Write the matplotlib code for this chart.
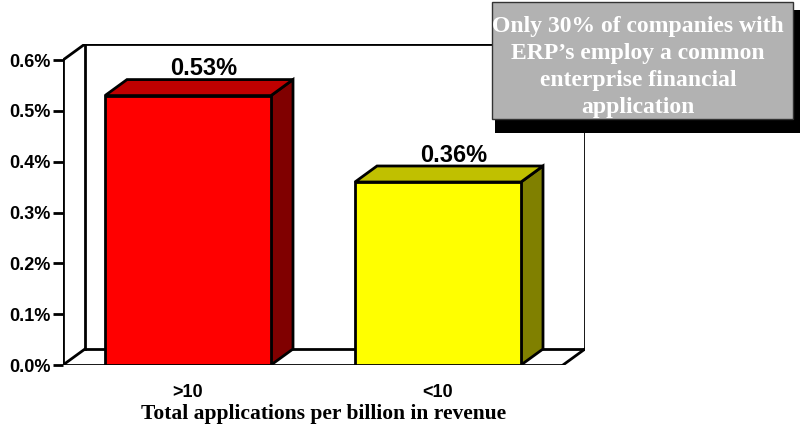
import matplotlib
matplotlib.use('Agg')
import matplotlib.pyplot as plt
from matplotlib.patches import Polygon, Rectangle

# chart data
categories = ['>10', '<10']
values = [0.53, 0.36]
value_labels = ['0.53%', '0.36%']
y_ticks = [0.0, 0.1, 0.2, 0.3, 0.4, 0.5, 0.6]
y_tick_labels = ['0.0%', '0.1%', '0.2%', '0.3%', '0.4%', '0.5%', '0.6%']
x_title = 'Total applications per billion in revenue'
note_text = 'Only 30% of companies with\nERP\u2019s employ a common\nenterprise financial\napplication'

front_colors = ['#ff0000', '#ffff00']
top_colors = ['#c00000', '#c0c000']
side_colors = ['#800000', '#808000']

W, H = 800, 424
YMAX = 0.6
DX = 0.088      # depth offset in x data units
DY = 0.0315     # depth offset in y data units
BAR_W = 0.664
LW = 2.0

fig = plt.figure(figsize=(W / 100, H / 100), dpi=100)
ax = fig.add_axes([63 / W, (H - 365) / H, (585 - 63) / W, (365 - 44) / H])
ax.set_facecolor('none')
ax.set_xlim(-0.5, 1.5 + DX)
ax.set_ylim(0, YMAX + DY)
for s in ax.spines.values():
    s.set_visible(False)

x0, x1 = -0.5, 1.5


def line(xs, ys):
    ax.plot(xs, ys, color='black', lw=LW, solid_capstyle='projecting', zorder=2)


# walls and floor
ax.add_patch(Polygon([(x0, 0), (x0 + DX, DY), (x0 + DX, YMAX + DY), (x0, YMAX)],
                     closed=True, facecolor='white', edgecolor='none', zorder=1))
line([x0, x0], [0, YMAX])
line([x0, x0 + DX], [YMAX, YMAX + DY])
line([x0, x0 + DX], [0, DY])
line([x0 + DX, x0 + DX], [DY, YMAX + DY])
line([x0 + DX, x1 + DX], [YMAX + DY, YMAX + DY])
line([x1 + DX, x1 + DX], [DY, YMAX + DY])
line([x0 + DX, x1 + DX], [DY, DY])
line([x0, x1], [0, 0])
line([x1, x1 + DX], [0, DY])

# 3d bars
for i, v in enumerate(values):
    l = i - BAR_W / 2
    r = i + BAR_W / 2
    front = [(l, 0), (r, 0), (r, v), (l, v)]
    top = [(l, v), (r, v), (r + DX, v + DY), (l + DX, v + DY)]
    side = [(r, 0), (r + DX, DY), (r + DX, v + DY), (r, v)]
    for pts, c in [(side, side_colors[i]), (top, top_colors[i]), (front, front_colors[i])]:
        ax.add_patch(Polygon(pts, closed=True, facecolor=c, edgecolor='black',
                             lw=LW, joinstyle='miter', zorder=3))
    ax.text(i + DX / 2 + 0.02, v + DY - 0.001, value_labels[i], ha='center', va='bottom',
            fontsize=17, fontweight='bold', family='Liberation Sans', zorder=4)

ax.set_yticks(y_ticks)
ax.set_yticklabels(y_tick_labels, fontsize=13, fontweight='bold', family='Liberation Sans')
ax.tick_params(axis='y', length=7, width=LW, pad=2)
ax.set_xticks(range(len(categories)))
ax.set_xticklabels(categories, fontsize=13, fontweight='bold', family='Liberation Sans')
ax.tick_params(axis='x', length=0, pad=14)
ax.set_xlabel(x_title, fontsize=15.5, fontweight='bold', family='Liberation Serif', labelpad=2)

# callout box with shadow
fig.patches.append(Rectangle((495 / W, 1 - 133 / H), (805 - 495) / W, (133 - 10) / H,
                             transform=fig.transFigure, facecolor='black',
                             edgecolor='none', zorder=5))
fig.patches.append(Rectangle((492 / W, 1 - 119 / H), (793 - 492) / W, (119 - 2) / H,
                             transform=fig.transFigure, facecolor='#b2b2b2',
                             edgecolor='#333333', lw=1, zorder=6))
fig.text(638 / W, 1 - 67 / H, note_text, ha='center', va='center', color='white',
         fontsize=17, fontweight='bold', family='Liberation Serif', linespacing=1.38,
         zorder=7)

fig.savefig('out.png', dpi=100)
